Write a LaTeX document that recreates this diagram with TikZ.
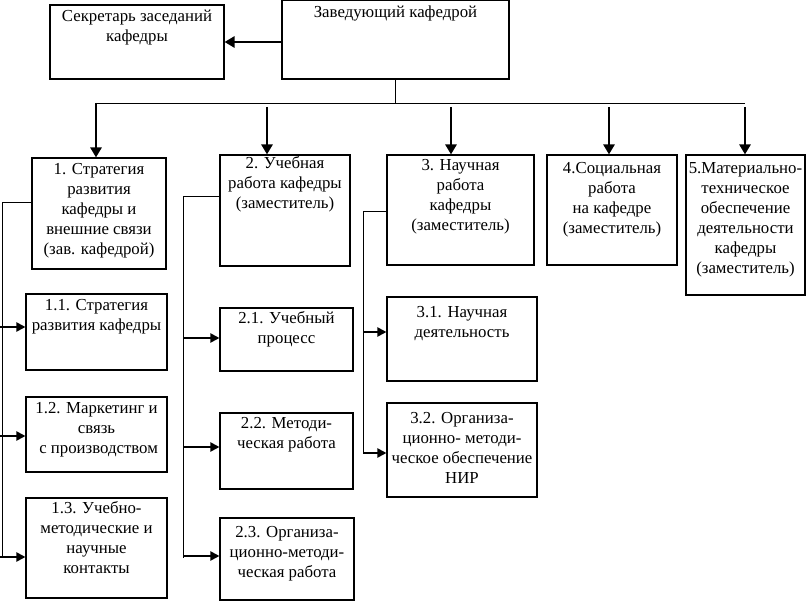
\documentclass[tikz,border=0pt]{standalone}
\usepackage{fontspec}
\setmainfont{Liberation Serif}
\usetikzlibrary{arrows.meta,fit}
\tikzset{
  boxst/.style={draw, line width=1.1pt, inner sep=0pt},
  txt/.style={align=center, inner sep=0pt, font=\fontsize{16.8pt}{20pt}\selectfont},
  conn/.style={line width=1pt},
  bigarrow/.style={line width=2.6pt, -{Triangle[length=10pt,width=11pt]}},
  smallarrow/.style={line width=2pt, -{Triangle[length=9pt,width=9pt]}},
}
\newcommand\obox[7]{%
  \node[boxst, fit={(#2,#3)(#4,#5)}] (#1) {};
  \node[txt, anchor=north] (#1t) at ([yshift=-#6pt+12pt]#1.north) {\rule{0pt}{12pt}#7};
}
\begin{document}
\begin{tikzpicture}[x=1pt,y=-1pt]
\useasboundingbox (0,0) rectangle (807,601);
% boxes
\obox{sec}{50}{5}{224}{79}{17}{Секретарь заседаний\\кафедры}
\obox{zav}{282}{0.6}{509}{79}{17}{Заведующий кафедрой}
\obox{b1}{32}{158}{166}{269}{17}{1. Стратегия\\развития\\кафедры и\\внешние связи\\(зав. кафедрой)}
\obox{b2}{220}{155}{350}{266}{14}{2. Учебная\\работа кафедры\\(заместитель)}
\obox{b3}{387}{155}{534}{265}{16}{3. Научная\\работа\\кафедры\\(заместитель)}
\obox{b4}{547}{155}{677}{265}{19}{4.Социальная\\работа\\на кафедре\\(заместитель)}
\obox{b5}{686}{155}{805}{295}{19}{5.Материально-\\техническое\\обеспечение\\деятельности\\кафедры\\(заместитель)}
\obox{b11}{26}{294}{167}{370}{17}{1.1. Стратегия\\развития кафедры}
\obox{b12}{26}{397}{167}{472}{17}{1.2. Маркетинг и\\связь\\\ с производством}
\obox{b13}{26}{498}{167}{598}{16}{1.3. Учебно-\\методические и\\научные\\контакты}
\obox{b21}{220}{308}{353}{371}{16}{2.1. Учебный\\процесс}
\obox{b22}{220}{413}{353}{489}{16}{2.2. Методи-\\ческая работа}
\obox{b23}{220}{518}{354}{600}{20}{2.3. Организа-\\ционно-методи-\\ческая работа}
\obox{b31}{387}{297}{537}{381}{21}{3.1. Научная\\деятельность}
\obox{b32}{387}{403}{537}{497}{21}{3.2. Организа-\\ционно- методи-\\ческое обеспечение\\НИР}
% top connectors
\draw[bigarrow] (zav.west |- sec.east) -- (sec.east);
\coordinate (bus) at (zav.south |- 0,104);
\coordinate (busL) at (96,104);
\coordinate (busR) at (745,104);
\draw[conn] (zav.south) -- (bus);
\draw[conn] (busL) -- (busR);
\coordinate (t1) at (96,103);
\coordinate (t2) at (267,107);
\coordinate (t3) at (451,107);
\coordinate (t4) at (609,107);
\coordinate (t5) at (745,107);
\draw[bigarrow] (t1) -- (t1 |- b1.north);
\draw[bigarrow] (t2) -- (t2 |- b2.north);
\draw[bigarrow] (t3) -- (t3 |- b3.north);
\draw[bigarrow] (t4) -- (t4 |- b4.north);
\draw[bigarrow] (t5) -- (t5 |- b5.north);
% column 1
\coordinate (c1t) at (2,203);
\coordinate (c1b) at (2,558);
\draw[conn] (b1.west |- c1t) -- (c1t) -- (c1b);
\coordinate (a11) at (0,327);
\coordinate (a12) at (0,436);
\coordinate (a13) at (0,557);
\draw[smallarrow] (a11) -- (a11 -| b11.west);
\draw[smallarrow] (a12) -- (a12 -| b12.west);
\draw[smallarrow] (a13) -- (a13 -| b13.west);
% column 2
\coordinate (c2t) at (183,197);
\coordinate (c2b) at (183,558);
\draw[conn] (b2.west |- c2t) -- (c2t) -- (c2b);
\coordinate (a21) at (183,338);
\coordinate (a22) at (183,447);
\coordinate (a23) at (183,556);
\draw[smallarrow] (a21) -- (a21 -| b21.west);
\draw[smallarrow] (a22) -- (a22 -| b22.west);
\draw[smallarrow] (a23) -- (a23 -| b23.west);
% column 3
\coordinate (c3t) at (363,212);
\coordinate (c3b) at (363,453);
\draw[conn] (b3.west |- c3t) -- (c3t) -- (c3b);
\coordinate (a31) at (363,332);
\coordinate (a32) at (363,453);
\draw[smallarrow] (a31) -- (a31 -| b31.west);
\draw[smallarrow] (a32) -- (a32 -| b32.west);
\end{tikzpicture}
\end{document}
